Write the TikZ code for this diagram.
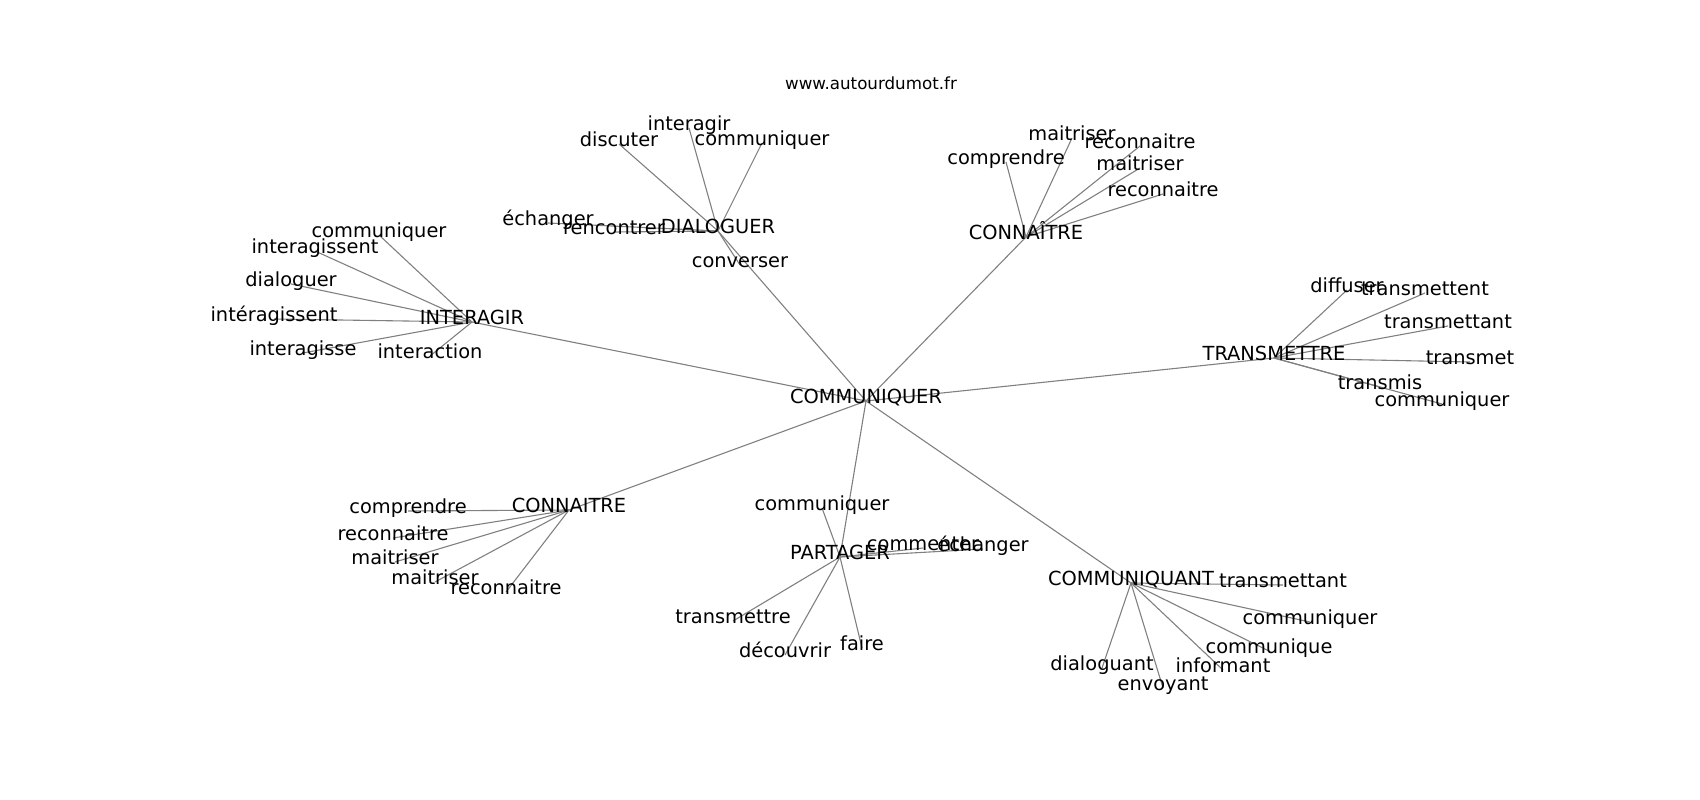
\documentclass[tikz,border=0pt]{standalone}
\usepackage{fontspec}
\setmainfont{DejaVu Sans}
\usetikzlibrary{backgrounds}
\begin{document}
\begin{tikzpicture}[x=1pt,y=-1pt,
  word/.style={inner sep=0pt,text height=0.76em,text depth=0.24em,font=\fontsize{19.4}{23}\selectfont},
  link/.style={draw=black!50,line width=1.1pt}]
\useasboundingbox (0,0) rectangle (1700,800);
\node[inner sep=0pt,font=\fontsize{16.7}{20}\selectfont] (site) at (871,83) {www.autourdumot.fr}; % title
\node[word] (hub) at (866,401) {COMMUNIQUER}; % hub
\node[word] (inter) at (472,322) {INTERAGIR}; % INTERAGIR
\node[word] (inter1) at (379,235) {communiquer};
\node[word] (inter2) at (315,251) {interagissent};
\node[word] (inter3) at (291,284) {dialoguer};
\node[word] (inter4) at (274,319) {intéragissent};
\node[word] (inter5) at (303,353) {interagisse};
\node[word] (inter6) at (430,356) {interaction};
\node[word] (dial) at (718,231) {DIALOGUER}; % DIALOGUER
\node[word] (dial1) at (548,223) {échanger};
\node[word] (dial2) at (614,232) {rencontrer};
\node[word] (dial3) at (619,144) {discuter};
\node[word] (dial4) at (689,128) {interagir};
\node[word] (dial5) at (762,143) {communiquer};
\node[word] (dial6) at (740,265) {converser};
\node[word] (conn) at (1026,237) {CONNAÎTRE}; % CONNAITRE (haut)
\node[word] (conn1) at (1006,162) {comprendre};
\node[word] (conn2) at (1072,138) {maitriser};
\node[word] (conn3) at (1140,146) {reconnaitre};
\node[word] (conn4) at (1140,168) {maitriser};
\node[word] (conn5) at (1163,194) {reconnaitre};
\node[word] (trans) at (1274,358) {TRANSMETTRE}; % TRANSMETTRE
\node[word] (trans1) at (1347,290) {diffuser};
\node[word] (trans2) at (1425,293) {transmettent};
\node[word] (trans3) at (1448,326) {transmettant};
\node[word] (trans4) at (1470,362) {transmet};
\node[word] (trans5) at (1380,387) {transmis};
\node[word] (trans6) at (1442,404) {communiquer};
\node[word] (know) at (569,510) {CONNAITRE}; % CONNAITRE (bas)
\node[word] (know1) at (408,511) {comprendre};
\node[word] (know2) at (393,538) {reconnaitre};
\node[word] (know3) at (395,562) {maitriser};
\node[word] (know4) at (435,582) {maitriser};
\node[word] (know5) at (506,592) {reconnaitre};
\node[word] (part) at (840,557) {PARTAGER}; % PARTAGER
\node[word] (part1) at (822,508) {communiquer};
\node[word] (part2) at (923,548) {commenter};
\node[word] (part3) at (983,549) {échanger};
\node[word] (part4) at (733,621) {transmettre};
\node[word] (part5) at (785,655) {découvrir};
\node[word] (part6) at (862,648) {faire};
\node[word] (cant) at (1131,583) {COMMUNIQUANT}; % COMMUNIQUANT
\node[word] (cant1) at (1283,585) {transmettant};
\node[word] (cant2) at (1310,622) {communiquer};
\node[word] (cant3) at (1269,651) {communique};
\node[word] (cant4) at (1223,670) {informant};
\node[word] (cant5) at (1102,668) {dialoguant};
\node[word] (cant6) at (1163,688) {envoyant};
\begin{scope}[on background layer]
\draw[link] (hub.center) -- (inter.center); % hub
\draw[link] (hub.center) -- (dial.center);
\draw[link] (hub.center) -- (conn.center);
\draw[link] (hub.center) -- (trans.center);
\draw[link] (hub.center) -- (know.center);
\draw[link] (hub.center) -- (part.center);
\draw[link] (hub.center) -- (cant.center);
\draw[link] (inter.center) -- (inter1.center); % INTERAGIR
\draw[link] (inter.center) -- (inter2.center);
\draw[link] (inter.center) -- (inter3.center);
\draw[link] (inter.center) -- (inter4.center);
\draw[link] (inter.center) -- (inter5.center);
\draw[link] (inter.center) -- (inter6.center);
\draw[link] (dial.center) -- (dial1.center); % DIALOGUER
\draw[link] (dial.center) -- (dial2.center);
\draw[link] (dial.center) -- (dial3.center);
\draw[link] (dial.center) -- (dial4.center);
\draw[link] (dial.center) -- (dial5.center);
\draw[link] (dial.center) -- (dial6.center);
\draw[link] (conn.center) -- (conn1.center); % CONNAITRE (haut)
\draw[link] (conn.center) -- (conn2.center);
\draw[link] (conn.center) -- (conn3.center);
\draw[link] (conn.center) -- (conn4.center);
\draw[link] (conn.center) -- (conn5.center);
\draw[link] (trans.center) -- (trans1.center); % TRANSMETTRE
\draw[link] (trans.center) -- (trans2.center);
\draw[link] (trans.center) -- (trans3.center);
\draw[link] (trans.center) -- (trans4.center);
\draw[link] (trans.center) -- (trans5.center);
\draw[link] (trans.center) -- (trans6.center);
\draw[link] (know.center) -- (know1.center); % CONNAITRE (bas)
\draw[link] (know.center) -- (know2.center);
\draw[link] (know.center) -- (know3.center);
\draw[link] (know.center) -- (know4.center);
\draw[link] (know.center) -- (know5.center);
\draw[link] (part.center) -- (part1.center); % PARTAGER
\draw[link] (part.center) -- (part2.center);
\draw[link] (part.center) -- (part3.center);
\draw[link] (part.center) -- (part4.center);
\draw[link] (part.center) -- (part5.center);
\draw[link] (part.center) -- (part6.center);
\draw[link] (cant.center) -- (cant1.center); % COMMUNIQUANT
\draw[link] (cant.center) -- (cant2.center);
\draw[link] (cant.center) -- (cant3.center);
\draw[link] (cant.center) -- (cant4.center);
\draw[link] (cant.center) -- (cant5.center);
\draw[link] (cant.center) -- (cant6.center);
\end{scope}
\end{tikzpicture}
\end{document}
